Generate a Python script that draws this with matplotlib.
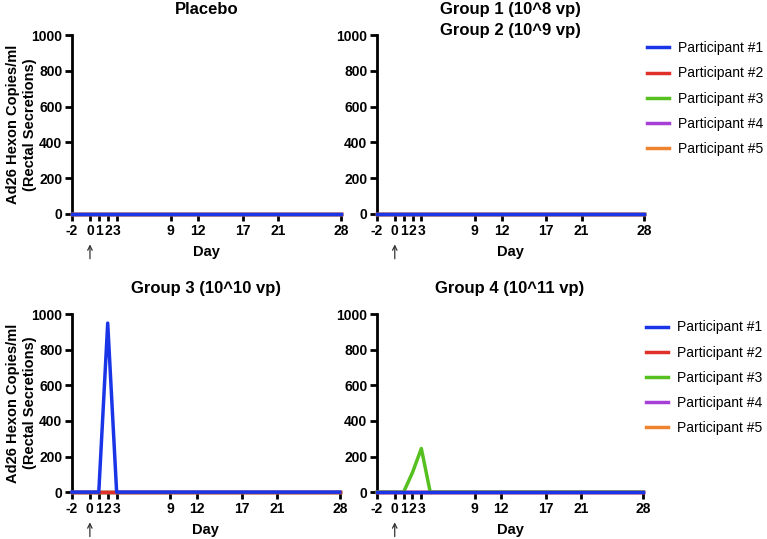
import numpy as np
import matplotlib
matplotlib.use("Agg")
import matplotlib.pyplot as plt

plt.rcParams['font.family'] = ['Liberation Sans', 'DejaVu Sans']

days = [-2, 0, 1, 2, 3, 4, 9, 12, 17, 21, 28]
xticks = [-2, 0, 1, 2, 3, 9, 12, 17, 21, 28]
yticks = [0, 200, 400, 600, 800, 1000]

participants = ["Participant #1", "Participant #2", "Participant #3",
                "Participant #4", "Participant #5"]
colors = ["#1a35e8", "#e0302a", "#55c01f", "#a63fd6", "#ee8330"]

zeros = [0, 0, 0, 0, 0, 0, 0, 0, 0, 0, 0]
placebo = [zeros, zeros, zeros, zeros, zeros]
group12 = [zeros, zeros, zeros, zeros, zeros]
group3 = [[0, 0, 0, 950, 0, 0, 0, 0, 0, 0, 0], zeros, zeros, zeros, zeros]
group4 = [zeros, zeros, [0, 0, 0, 110, 245, 0, 0, 0, 0, 0, 0], zeros, zeros]

titles = ["Placebo", "Group 1 (10^8 vp)\nGroup 2 (10^9 vp)",
          "Group 3 (10^10 vp)", "Group 4 (10^11 vp)"]
panels = [placebo, group12, group3, group4]

fig = plt.figure(figsize=(7.67, 5.39), dpi=100)
positions = [
    [0.0939, 0.603, 0.351, 0.332],
    [0.4915, 0.603, 0.348, 0.332],
    [0.0939, 0.087, 0.349, 0.330],
    [0.4915, 0.087, 0.347, 0.330],
]

for k in range(4):
    ax = fig.add_axes(positions[k])
    data = panels[k]
    lines = []
    for i in range(5):
        ln, = ax.plot(days, data[i], color=colors[i], lw=2.5,
                      label=participants[i], clip_on=False, zorder=10 - i)
        lines.append(ln)
    ax.set_xlim(-2, 28)
    ax.set_ylim(0, 1000)
    ax.set_xticks(xticks)
    ax.set_yticks(yticks)
    ax.set_xticklabels([str(t) for t in xticks], fontsize=10, fontweight='bold')
    ax.set_yticklabels([str(t) for t in yticks], fontsize=10, fontweight='bold')
    ax.tick_params(width=2, length=5, pad=2)
    for s in ['top', 'right']:
        ax.spines[s].set_visible(False)
    for s in ['left', 'bottom']:
        ax.spines[s].set_linewidth(2)
    ax.set_xlabel("Day", fontsize=10.5, fontweight='bold', labelpad=5)
    if k % 2 == 0:
        ax.set_ylabel("Ad26 Hexon Copies/ml\n(Rectal Secretions)", fontsize=10.5,
                      fontweight='bold', linespacing=1.3)
        ax.yaxis.set_label_coords(-0.13, 0.5)
    ax.text(0.5, 1 + 33 / 179, titles[k], transform=ax.transAxes, ha='center',
            va='top', fontsize=12, fontweight='bold', linespacing=1.5)
    ax.annotate('', xy=(0, -0.17), xytext=(0, -0.25),
                xycoords=('data', 'axes fraction'),
                textcoords=('data', 'axes fraction'),
                arrowprops=dict(arrowstyle='->', lw=0.9, color='#333333',
                                shrinkA=0, shrinkB=0,
                                mutation_scale=8))
    if k % 2 == 1:
        ax.legend(handles=lines, loc='upper left', bbox_to_anchor=(1.01, 0.965),
                  frameon=False, fontsize=10, handlelength=1.6,
                  handletextpad=0.65, labelspacing=0.8, borderpad=0,
                  borderaxespad=0)

fig.savefig("out.png", dpi=100)
